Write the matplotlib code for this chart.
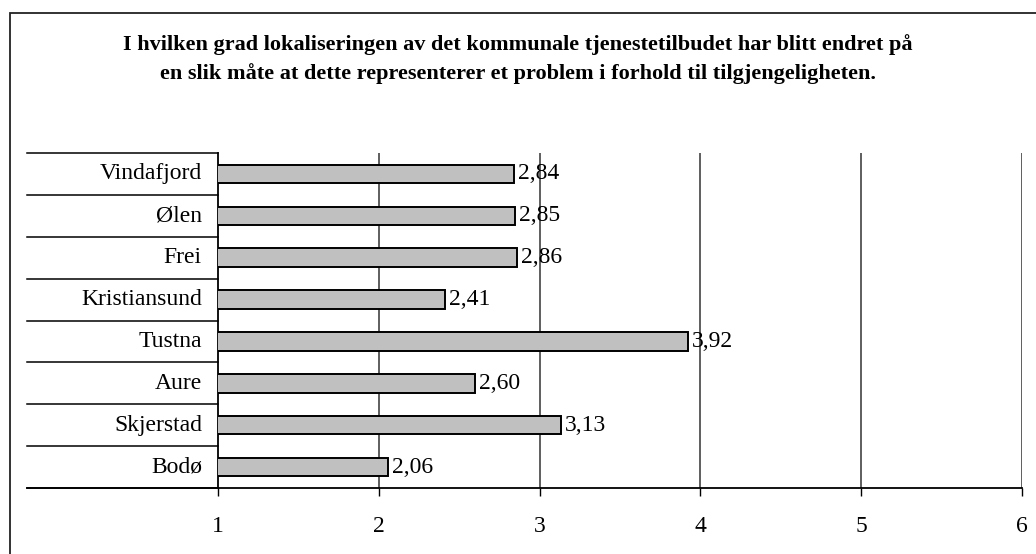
import matplotlib.pyplot as plt
from matplotlib.patches import Rectangle

# Data
kommuner = ['Vindafjord', 'Ølen', 'Frei', 'Kristiansund', 'Tustna', 'Aure', 'Skjerstad', 'Bodø']
verdier = [2.84, 2.85, 2.86, 2.41, 3.92, 2.60, 3.13, 2.06]
xticks = [1, 2, 3, 4, 5, 6]
tittel = ('I hvilken grad lokaliseringen av det kommunale tjenestetilbudet har blitt endret på\n'
          'en slik måte at dette representerer et problem i forhold til tilgjengeligheten.')

plt.rcParams['font.family'] = ['Liberation Serif', 'DejaVu Serif']

fig = plt.figure(figsize=(10.36, 5.54), dpi=100)
ax = fig.add_axes([218 / 1036, 1 - 488 / 554, (1022 - 218) / 1036, (488 - 153) / 554])

# outer frame (right/bottom run off the picture)
fig.patches.append(Rectangle((10 / 1036, -0.1), 1.2, 1 - 13 / 554 + 0.1,
                             transform=fig.transFigure, fill=False,
                             edgecolor='#222222', linewidth=1.3, zorder=0))

n = len(kommuner)
ypos = list(range(n - 1, -1, -1))
ax.barh(ypos, verdier, height=0.44, color='#c0c0c0', edgecolor='black', linewidth=1.4, zorder=3)

for y, v in zip(ypos, verdier):
    ax.text(v + 0.025, y, f'{v:.2f}'.replace('.', ','), va='center', ha='left',
            fontsize=17, zorder=4)

ax.set_xlim(1, 6)
ax.set_ylim(-0.5, n - 0.5)
ax.set_xticks(xticks)
ax.set_xticklabels([str(t) for t in xticks], fontsize=17)
ax.tick_params(axis='x', direction='out', length=6, width=1, pad=14)
ax.set_yticks([])

# vertical grid lines
for t in xticks[1:]:
    ax.axvline(t, color='#333333', linewidth=1.1, zorder=1)

for s in ['top', 'right']:
    ax.spines[s].set_visible(False)
ax.spines['left'].set_linewidth(1.3)
ax.spines['bottom'].set_linewidth(1.3)

# category labels with separator lines
trans = ax.get_yaxis_transform()
x0 = (27 - 218) / (1022 - 218)
for i in range(n + 1):
    ax.plot([x0, 0], [i - 0.5, i - 0.5], color='black', linewidth=1.1,
            transform=trans, clip_on=False)
ax.plot([x0, 0], [-0.5, -0.5], color='black', linewidth=1.3, transform=trans, clip_on=False)
for y, k in zip(ypos, kommuner):
    ax.text(-0.02, y, k, transform=trans, ha='right', va='center', fontsize=17)

fig.text(0.5, 1 - 59 / 554, tittel, ha='center', va='center', fontsize=16,
         fontweight='bold', linespacing=1.45)

fig.savefig('out.png', dpi=100)
